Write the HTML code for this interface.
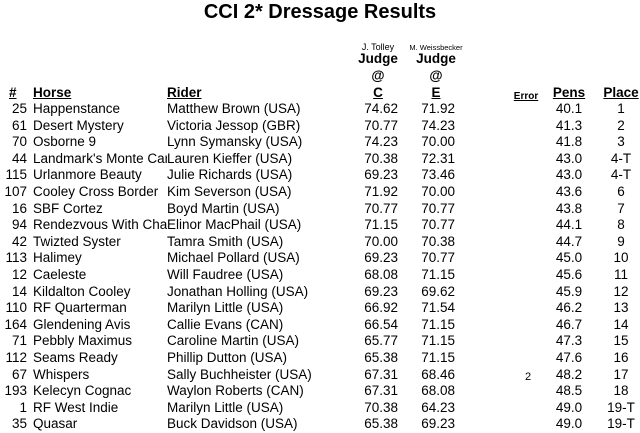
<!DOCTYPE html>
<html><head><meta charset="utf-8"><style>
body{margin:0;background:#fff;width:640px;height:433px;overflow:hidden;font-family:"Liberation Sans",Arial,sans-serif;color:#000;position:relative}
.a{position:absolute;white-space:nowrap;font-size:13.5px;line-height:16px}
.h{font-weight:bold;text-decoration:underline}
.c{transform:translateX(-50%);text-align:center}
.r{transform:translateX(-100%)}
</style></head><body>
<div class="a" style="left:320px;top:0;font-size:20px;line-height:24px;font-weight:bold;transform:translateX(-50%)">CCI 2* Dressage Results</div>
<div class="a c" style="left:378px;top:39px;font-size:9px">J. Tolley</div>
<div class="a c" style="left:436px;top:40px;font-size:7.5px">M. Weissbecker</div>
<div class="a c" style="left:378px;top:51px;font-weight:bold">Judge</div>
<div class="a c" style="left:436px;top:51px;font-weight:bold">Judge</div>
<div class="a c" style="left:378px;top:68px;font-weight:bold">@</div>
<div class="a c" style="left:436px;top:68px;font-weight:bold">@</div>
<div class="a h" style="left:9px;top:85px">#</div>
<div class="a h" style="left:33px;top:85px">Horse</div>
<div class="a h" style="left:167px;top:85px">Rider</div>
<div class="a h c" style="left:378px;top:85px">C</div>
<div class="a h c" style="left:436px;top:85px">E</div>
<div class="a h c" style="left:526px;top:89px;font-size:10px">Error</div>
<div class="a h c" style="left:569px;top:85px">Pens</div>
<div class="a h c" style="left:621px;top:85px">Place</div>
<div id="rows"></div>
<script>
const nums=["25","61","70","44","115","107","16","94","42","113","12","14","110","164","71","112","67","193","1","35"];
const horses=["Happenstance","Desert Mystery","Osborne 9","Landmark's Monte Carlo","Urlanmore Beauty","Cooley Cross Border","SBF Cortez","Rendezvous With Chance","Twizted Syster","Halimey","Caeleste","Kildalton Cooley","RF Quarterman","Glendening Avis","Pebbly Maximus","Seams Ready","Whispers","Kelecyn Cognac","RF West Indie","Quasar"];
const riders=["Matthew Brown (USA)","Victoria Jessop (GBR)","Lynn Symansky (USA)","Lauren Kieffer (USA)","Julie Richards (USA)","Kim Severson (USA)","Boyd Martin (USA)","Elinor MacPhail (USA)","Tamra  Smith (USA)","Michael Pollard (USA)","Will Faudree (USA)","Jonathan Holling (USA)","Marilyn Little (USA)","Callie Evans (CAN)","Caroline Martin (USA)","Phillip Dutton (USA)","Sally Buchheister (USA)","Waylon Roberts (CAN)","Marilyn Little (USA)","Buck Davidson (USA)"];
const judgeC=["74.62","70.77","74.23","70.38","69.23","71.92","70.77","71.15","70.00","69.23","68.08","69.23","66.92","66.54","65.77","65.38","67.31","67.31","70.38","65.38"];
const judgeE=["71.92","74.23","70.00","72.31","73.46","70.00","70.77","70.77","70.38","70.77","71.15","69.62","71.54","71.15","71.15","71.15","68.46","68.08","64.23","69.23"];
const errors=["","","","","","","","","","","","","","","","","2","","",""];
const pens=["40.1","41.3","41.8","43.0","43.0","43.6","43.8","44.1","44.7","45.0","45.6","45.9","46.2","46.7","47.3","47.6","48.2","48.5","49.0","49.0"];
const places=["1","2","3","4-T","4-T","6","7","8","9","10","11","12","13","14","15","16","17","18","19-T","19-T"];
const rows=document.getElementById('rows');
function cell(txt,left,top,cls,extra){const d=document.createElement('div');d.className='a '+cls;d.style.left=left+'px';d.style.top=top+'px';if(extra)Object.assign(d.style,extra);d.textContent=txt;rows.appendChild(d);return d;}
for(let i=0;i<nums.length;i++){
  const t=101+i*16.6;
  let d=cell(nums[i],27,t,'r');
  
  
  d=cell(horses[i],33,t,'',{width:'134px',overflow:'hidden'});
  
  
  d=cell(riders[i],167,t,'');
  
  
  d=cell(judgeC[i],398,t,'r');
  
  
  d=cell(judgeE[i],455,t,'r');
  
  
  d=cell(errors[i],528,t+2,'c',{fontSize:'11px'});
  
  
  d=cell(pens[i],569,t,'c');
  
  
  d=cell(places[i],621,t,'c');
  
  
}
</script>
</body></html>
